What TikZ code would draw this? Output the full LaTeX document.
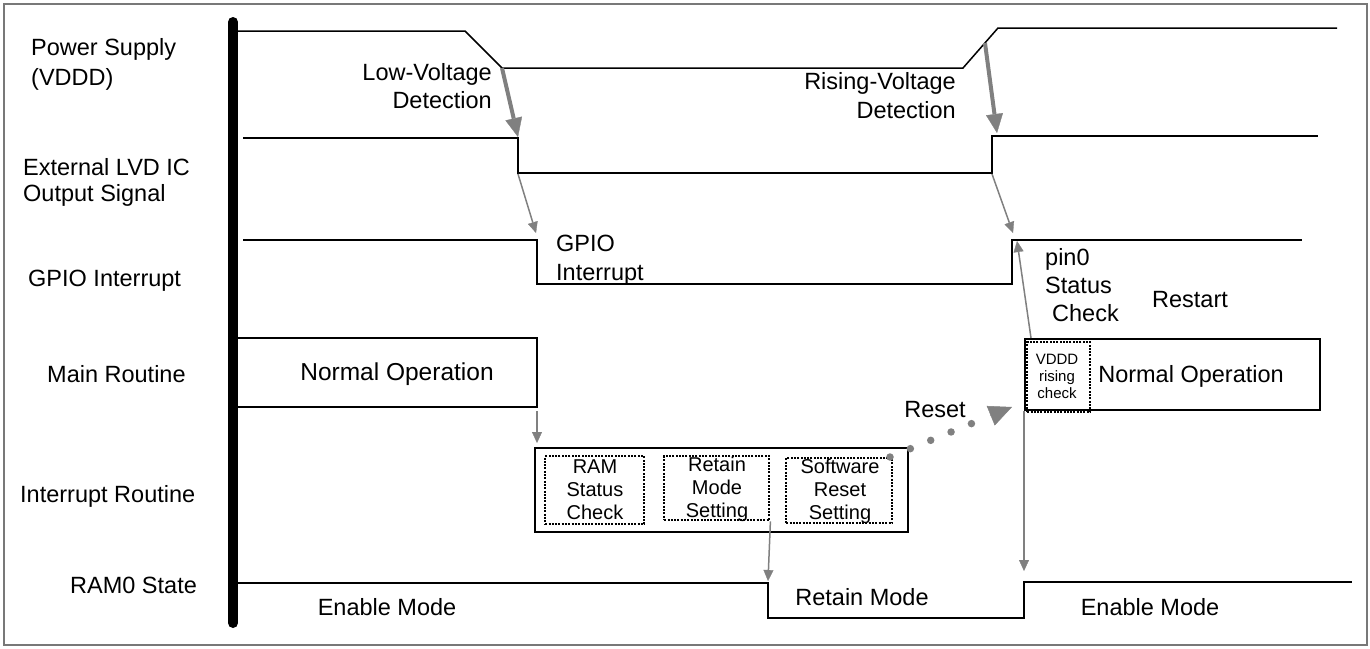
\documentclass[tikz,border=0pt]{standalone}
\usepackage{fontspec}
\setmainfont{Liberation Sans}
\usetikzlibrary{arrows.meta,calc}
\definecolor{arrowgray}{RGB}{128,128,128}
\definecolor{framegray}{RGB}{120,120,120}
\begin{document}
\begin{tikzpicture}[x=1pt,y=-1pt,
  sig/.style={line width=1.5pt, line join=miter},
  box/.style={draw, line width=1.5pt, inner sep=0pt},
  dotbox/.style={draw, line width=2.4pt, dash pattern=on 2pt off 1.3pt, inner sep=0pt},
  thinarrow/.style={color=arrowgray, line width=1.5pt, -{Triangle[length=11pt,width=10pt,line width=0.3pt]}},
  thickarrow/.style={color=arrowgray, line width=4pt, -{Triangle[length=19pt,width=17pt,line width=0.3pt]}},
  lbl/.style={inner sep=0pt, font=\fontsize{23.5}{29}\selectfont},
  small/.style={inner sep=0pt, align=center, font=\fontsize{20}{23}\selectfont},
  tiny/.style={inner sep=0pt, align=center, font=\fontsize{15}{17}\selectfont}]
\useasboundingbox (0,0) rectangle (1370,648);

% frame and time axis
\draw[framegray, line width=1.5pt] (4,4) rectangle (1367,645);
\draw[line width=10pt, line cap=round] (233,22) -- (233,623);

% row labels
\node[lbl, anchor=west, align=left, font=\fontsize{23.5}{30}\selectfont] (lpow) at (31,64.5) {Power Supply\\(VDDD)};
\node[lbl, anchor=west, align=left, font=\fontsize{23.5}{26}\selectfont] (lext) at (23,182.5) {External LVD IC\\Output Signal};
\node[lbl, anchor=west] (lgpio) at (28,280.5) {GPIO Interrupt};
\node[lbl, anchor=west] (lmain) at (47,374) {Main Routine};
\node[lbl, anchor=west] (lirq) at (20,496) {Interrupt Routine};
\node[lbl, anchor=west] (lram) at (70,585) {RAM0 State};

% waveforms
\draw[sig] (238,31) -- (465,31) -- (502,68) -- (963,68) -- (998,28) -- (1337,28);
\draw[sig] (243,138) -- (518,138) -- (518,173) -- (992,173) -- (992,136) -- (1318,136);
\draw[sig] (243,240) -- (537,240) -- (537,284) -- (1012,284) -- (1012,240) -- (1302,240);
\draw[sig] (238,338) -- (537,338) -- (537,407) -- (238,407);
\draw[sig] (238,583) -- (768,583) -- (768,618) -- (1024,618) -- (1024,582) -- (1352,582);

% event points on the waveforms
\coordinate (vFall) at (502,68);
\coordinate (vRise) at (985,43);
\coordinate (lvdTipA) at (518,137);
\coordinate (lvdTipB) at (997,133);
\coordinate (lvdFallBot) at (518,174);
\coordinate (lvdRiseBot) at (992,174);
\coordinate (gpioFallTip) at (536,233);
\coordinate (gpioRiseTip) at (1013,233);
\coordinate (gpioRise) at (1017,241);
\coordinate (mainEnd) at (537,411);
\coordinate (irqIn) at (537,443);
\coordinate (ramFall) at (768,581);
\coordinate (ramRise) at (1024,571);
\coordinate (pinS) at (1031,338);
\coordinate (rstS) at (890,457);
\coordinate (rstE) at (1012,407);

% interrupt routine
\node[box, anchor=north west, minimum width=373pt, minimum height=84pt] (irq) at (534,447) {};
\node[dotbox, anchor=north west, minimum width=99pt, minimum height=68pt] (ramchk) at (544,455) {};
\node[small] (tramchk) at (595,490) {RAM\\Status\\Check};
\node[dotbox, anchor=north west, minimum width=105pt, minimum height=64pt] (retain) at (663,455) {};
\node[small] (tretain) at (717,489.5) {Retain\\Mode\\Setting};
\node[dotbox, anchor=north west, minimum width=106pt, minimum height=65pt] (swreset) at (785,457) {};
\node[small] (tswreset) at (840,491.5) {Software\\Reset\\Setting};

% restarted main routine
\node[box, anchor=north west, minimum width=295pt, minimum height=71pt] (mainR) at (1024,338) {};
\node[dotbox, anchor=north west, minimum width=63pt, minimum height=70pt] (vddd) at (1026,341) {};
\node[tiny] (tvddd) at (1057,376) {VDDD\\rising\\check};

% texts
\node[lbl, anchor=east, align=right, font=\fontsize{23.5}{28.5}\selectfont] (tlow) at (492,86) {Low-Voltage\\Detection};
\node[lbl, anchor=east, align=right] (trise) at (956,95.5) {Rising-Voltage\\Detection};
\node[lbl, anchor=west, align=left] (tgpio) at (556,260) {GPIO\\Interrupt};
\node[lbl, anchor=west, align=left, font=\fontsize{23.5}{28}\selectfont] (tpin) at (1045,285) {pin0\\Status\\\hspace*{7pt}Check};
\node[lbl] (trestart) at (1190,300) {Restart};
\node[lbl, font=\fontsize{24.5}{29}\selectfont] (tnormL) at (397,374.5) {Normal Operation};
\node[lbl] (tnormR) at (1191,376.5) {Normal Operation};
\node[lbl] (treset) at (935,410) {Reset};
\node[lbl] (tenL) at (387,607) {Enable Mode};
\node[lbl] (tret) at (862,597) {Retain Mode};
\node[lbl] (tenR) at (1150,607) {Enable Mode};

% cause-effect arrows
\draw[thickarrow] (vFall) -- (lvdTipA);
\draw[thickarrow] (vRise) -- (lvdTipB);
\draw[thinarrow] (lvdFallBot) -- (gpioFallTip);
\draw[thinarrow] (lvdRiseBot) -- (gpioRiseTip);
\draw[thinarrow] (mainEnd) -- (irqIn);
\draw[thinarrow] (retain.south east) -- (ramFall);
\draw[thinarrow] (pinS) -- (gpioRise);
\draw[thinarrow] (mainR.south west) -- (ramRise);

% reset jump
\draw[arrowgray, line width=7.5pt, line cap=round, dash pattern=on 0pt off 22pt] (rstS) -- ($(rstS)!0.72!(rstE)$);
\draw[arrowgray, line width=0.5pt, -{Triangle[length=23pt,width=21pt]}] ($(rstS)!0.82!(rstE)$) -- (rstE);
\end{tikzpicture}
\end{document}
